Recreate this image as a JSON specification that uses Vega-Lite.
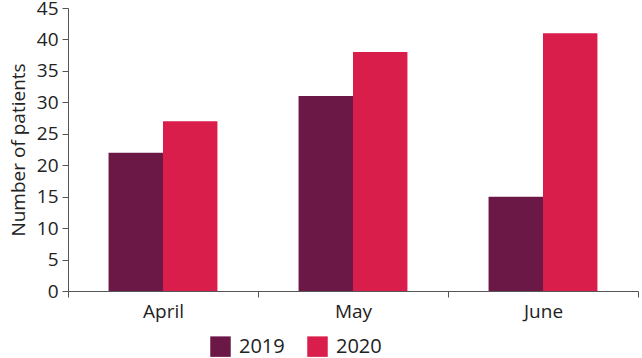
{
  "$schema": "https://vega.github.io/schema/vega-lite/v6.json",
  "width": 570,
  "height": 283,
  "autosize": {"type": "none"},
  "padding": {"left": 68, "top": 8, "right": 4, "bottom": 67},
  "background": "white",
  "config": {
    "view": {"stroke": null},
    "font": "Open Sans",
    "axis": {"domainColor": "#555", "tickColor": "#555", "labelColor": "#222", "titleColor": "#222", "grid": false, "labelFontWeight": "normal", "titleFontWeight": "normal"}
  },
  "data": {
    "values": [
      {"month": "April", "year": "2019", "patients": 22},
      {"month": "April", "year": "2020", "patients": 27},
      {"month": "May", "year": "2019", "patients": 31},
      {"month": "May", "year": "2020", "patients": 38},
      {"month": "June", "year": "2019", "patients": 15},
      {"month": "June", "year": "2020", "patients": 41}
    ]
  },
  "mark": {"type": "bar"},
  "encoding": {
    "x": {
      "field": "month", "type": "nominal", "sort": ["April", "May", "June"],
      "scale": {"paddingInner": 0, "paddingOuter": 0},
      "axis": {"title": null, "labelAngle": 0, "tickBand": "extent", "labelFontSize": 19, "labelPadding": 5, "tickSize": 6}
    },
    "xOffset": {
      "field": "year", "type": "nominal",
      "scale": {"paddingInner": 0, "paddingOuter": 0.745}
    },
    "y": {
      "field": "patients", "type": "quantitative",
      "scale": {"domain": [0, 45], "nice": false},
      "axis": {"title": "Number of patients", "values": [0,5,10,15,20,25,30,35,40,45], "labelFontSize": 19, "titleFontSize": 19, "tickSize": 6, "labelPadding": 4, "titlePadding": 8}
    },
    "color": {
      "field": "year", "type": "nominal",
      "scale": {"domain": ["2019", "2020"], "range": ["#6B1847", "#DA1E4B"]},
      "legend": {"title": null, "orient": "none", "direction": "horizontal", "legendX": 142, "legendY": 328, "symbolType": "square", "symbolSize": 420, "symbolStrokeWidth": 0, "labelFontSize": 20, "labelColor": "#222", "columnPadding": 22, "labelOffset": 8}
    }
  }
}
